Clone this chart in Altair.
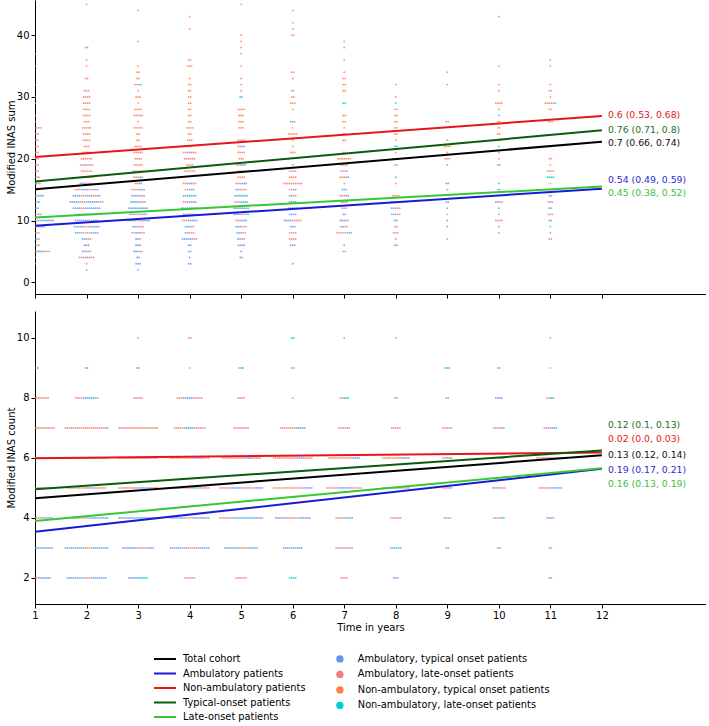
import re
import altair as alt
import pandas as pd

# ---------------- data ----------------
# Colour codes: b = ambulatory typical onset, s = ambulatory late-onset,
# o = non-ambulatory typical onset, c = non-ambulatory late-onset
# "level:codes" per year, run-length coded (left-to-right order of dots)
sum_rows = {
    1: "37:o1 35:s1 32:o1 30:o1 29:s1 27:o1 26:o1 25:o3s2o2 24:o2s2 23:o2s2 22:o2s1o1 21:s2o2 20:o2s2 19:o2s2 18:s2o2 17:o2c1s2 16:o3c1o2 15:b2o2 14:b3o2b4 13:s2b3 12:c1b3 11:b3s2b2 10:b8s4b7 9:b5s2b3 8:b3s2 7:b4s1 6:b3s2 5:b4s4b4s3 4:b1 3:b1",
    2: "45:o1 38:o2 36:o1 35:o1 33:o2 31:o3 30:o2s2 29:o4 28:s2o2 27:o4 26:o3 25:o2s2c1 24:s2o2 23:o4 22:o3 21:s2o2 20:o3s3 19:o2b2s3 18:o4s2 17:o3b2o2 16:b3o2s2 15:o3b4s2b3 14:b4s3b3o2b2 13:b5s3c2b4s3 12:b4o2b3c1b4 11:b3s3b4s2 10:b6s2b4 9:b5s3b5 8:b4s4b4 7:b3s2 6:b3 5:b3s2 4:s3b2s3 3:s1 2:b1",
    3: "44:o1 39:o1 35:o1 34:o2 33:o2 32:o2c2 31:o1 30:o3 29:o1 28:o4 27:o5 26:o1 25:o2s3 24:o2 23:o2 22:o2s2 21:o3s2 20:o2s2 19:s3o2 18:b2s2o2 17:o3b2 16:s2b2 15:o3b4 14:b3s2b2 13:c2b3s3 12:b4c2b4 11:b3s3b3 10:b5s3b4 9:b3s3 8:s2b3s2 7:b2s1 6:b3 5:b3s2 4:b2 3:b3 2:b1",
    4: "43:o1 41:o1 36:o2 35:o3 33:o1 32:o2 31:o2 30:o2 29:o2 28:o2 27:o2 26:o2 25:o2s2 24:o2 23:o3 22:o2 21:o3b2o2 20:s3o3 19:o2s2 18:o3s3 16:s3b2o2 15:o2b3 14:b3c2b2 13:s3b4 12:b4c2b3 11:b3s2b2 10:s3b5 9:b3s2 8:b2s3 7:b5s3 6:b2 5:b2 4:b1 3:b2",
    5: "45:o1 40:o1 39:o1 38:o1 37:o1 35:o1 33:o1 32:o1 31:o1 30:c2 28:o4 27:o3 26:o3 25:o3 23:o2s2 22:s2b2 21:o2s2 20:o3 19:s2b3 18:o4 17:s2o2 16:s3b3 15:b3s3 14:b4c3 13:s3b4 12:b3c2b3 11:b4s2c2 10:s3b3 9:b3s3 8:b3s2 7:b2s2 6:s2b2 5:b1 4:b2",
    6: "44:o1 42:o1 41:o1 40:o2 34:o2 33:o1 31:o2 30:o2 29:o3 28:o1 26:c2o1 25:o1 24:o5 23:o1 22:o1 21:o3 19:b1 18:s2o2 17:o4 16:o5s5 15:s2b2 14:b2s2 13:b4 12:b3c2 11:b4 10:b4s5 9:c1b2 8:s4 7:s4 6:b3 3:b1",
    7: "39:o1 38:o1 36:o1 34:o1 33:o2 32:o2 31:o2 29:c2 27:o2 26:o2 25:o1 24:o2 23:o2 21:o2 20:o4s3 19:o4 18:s2b2 17:o3b2 16:o1 15:b3 14:s3b2 13:b2s2 12:s3 11:b2 10:b3s2 9:b2s2 8:s5b3 6:b1 5:s2",
    8: "32:o1 30:o1 29:c1 28:o2 27:o2 26:o2 25:o2 24:o2 23:o1 22:c2 21:o1 20:o2s2 19:o2 17:c1 16:o1 14:o4 13:b3s3 12:b2s3 11:b3s2 10:b2 9:s2 8:b1s2 7:b1 6:b2",
    9: "34:o1 32:o1 26:o2 23:o1 22:o4 21:o1 20:s3 19:c1 16:b2 15:b1 13:b2 12:b1 11:s1 10:b1 9:b1 7:s1",
    10: "43:o1 35:o1 32:o1 31:o1 29:o4 28:o1 27:c1 26:o2 25:o2 24:o2 23:s2 22:c1 21:o1 20:o1 19:b2 16:c1 15:b2 13:b2s2 12:b1 11:b1 10:s4 9:b1 8:b1",
    11: "36:o1 35:o1 32:o1 31:o2 30:o1 29:o5c1 28:o2 26:o3 22:o1 20:o2 19:o1 18:o4 17:c4 16:o1 15:s3 14:b2 13:s3 12:b2 11:s3 10:b2 9:b1 8:b1 7:s2",
}
count_rows = {
    1: "9:s4 8:s6o4s4 7:s8o6s6 6:o6s6b4o4 5:o5s5b4o4 4:b6c2s4b6 3:b8c2b8 2:b8s2b6",
    2: "9:c2 8:s4b4c2s2 7:s8o6s6b2 6:o6s6b4o4b2 5:s6o4b4o4s2 4:b8s4b6c2b2 3:b10s4b6c2 2:b8s4b8",
    3: "10:s1 9:c2 8:s5 7:s8o6s6 6:o6s6b4o4 5:s6o4b6o4 4:b8c4b8 3:b8s4b4 2:b6c4",
    4: "10:s2 9:s1 8:s4b4s5 7:s6c4s6 6:o6s6b4o4 5:b6s6b4s4 4:b8s4b8 3:b8s6b6 2:s6",
    5: "9:s1c2 8:s4 7:s8 6:o6s6b4o4 5:s6b6s6b4 4:s6b6c2b8 3:b8s4b5 2:s6",
    6: "10:c2 9:s2 8:s1 7:s8b5 6:o6s6b4o4 5:s6o6s4b4 4:b6s6b6 3:b5c2b3 2:c4",
    7: "10:s1 8:s2c3 7:s6 6:o6s6b4 5:s6b6s6 4:s5b4 3:s9 2:s4",
    8: "10:s1 8:s1c1 7:s5 6:s6o4b4 5:s6b4s4 4:s6 3:b3c3 2:b3",
    9: "9:c3 8:s2 7:s5 6:s2b3 5:s3b2 4:s4 3:b2",
    10: "9:s2 8:b4 7:s5c1 6:s4b2 5:b4s3 4:s4c2 3:b2",
    11: "10:s1 9:s1 8:s2c2 7:s3b4 6:s6o4b4 5:s6b6 4:b4 3:s2 2:b2",
}

point_types = ["Ambulatory, typical onset patients", "Ambulatory, late-onset patients",
               "Non-ambulatory, typical onset patients", "Non-ambulatory, late-onset patients"]
type_codes = ["b", "s", "o", "c"]

groups = ["Total cohort", "Ambulatory patients", "Non-ambulatory patients",
          "Typical-onset patients", "Late-onset patients"]
line_x = [1, 12]
sum_start = [15.05, 9.15, 20.3, 16.3, 10.5]
sum_end = [22.75, 15.15, 26.9, 24.6, 15.5]
sum_labels = ["0.7 (0.66, 0.74)", "0.54 (0.49, 0.59)", "0.6 (0.53, 0.68)",
              "0.76 (0.71, 0.8)", "0.45 (0.38, 0.52)"]
sum_label_y = [22.5, 16.55, 27.07, 24.6, 14.5]
count_start = [4.66, 3.54, 5.99, 4.96, 3.9]
count_end = [6.09, 5.64, 6.18, 6.25, 5.66]
count_labels = ["0.13 (0.12, 0.14)", "0.19 (0.17, 0.21)", "0.02 (0.0, 0.03)",
                "0.12 (0.1, 0.13)", "0.16 (0.13, 0.19)"]
count_label_y = [6.1, 5.6, 6.62, 7.09, 5.12]

# ---------------- styles ----------------
point_colors = ["#6495ED", "#F08080", "#FF7F50", "#00CED1"]
line_colors = ["#000000", "#1a1ad6", "#e8141c", "#0b5a0b", "#35c835"]
text_colors = ["#111111", "#2a2ad0", "#e01818", "#2a6e2a", "#40c040"]
GAP = 0.039  # horizontal spacing between stacked dots (in x units)
FONT = "DejaVu Sans"
code_map = dict(zip(type_codes, point_types))


def expand(rows):
    recs = []
    for yr, s in rows.items():
        for tok in s.split():
            lvl, codes = tok.split(":")
            seq = []
            for c, n in re.findall(r"([bsoc])(\d+)", codes):
                seq += [c] * int(n)
            n = len(seq)
            for i, c in enumerate(seq):
                recs.append({"x": yr + (i - (n - 1) / 2) * GAP, "y": float(lvl), "type": code_map[c]})
    return pd.DataFrame(recs)


def lines_df(starts, ends):
    recs = []
    for g, a, b in zip(groups, starts, ends):
        recs.append({"x": line_x[0], "y": a, "group": g})
        recs.append({"x": line_x[1], "y": b, "group": g})
    return pd.DataFrame(recs)


XSCALE = alt.Scale(domain=[1, 14.02], nice=False, zero=False)
LEG_Y = 654
ROW_PAD = 4.5


def panel(pts, starts, ends, labels, label_y, ydom, yticks, ytitle, bottom, h):
    if bottom:
        xaxis = alt.Axis(values=list(range(1, 13)), title="Time in years", labelFlush=False)
    else:
        xaxis = alt.Axis(values=list(range(1, 13)), labels=False, title=None)
    yscale = alt.Scale(domain=ydom, nice=False, zero=False)
    yaxis = alt.Axis(values=yticks, title=ytitle)

    points = alt.Chart(pts).mark_circle(size=3.5, opacity=0.8, clip=True).encode(
        x=alt.X("x:Q", scale=XSCALE, axis=xaxis),
        y=alt.Y("y:Q", scale=yscale, axis=yaxis),
        color=alt.Color("type:N", scale=alt.Scale(domain=point_types, range=point_colors),
                        legend=alt.Legend(orient="none", legendX=300, legendY=LEG_Y, title=None,
                                          symbolType="circle", symbolSize=54, symbolOpacity=1,
                                          labelFontSize=9.8, labelFont=FONT, labelOffset=13,
                                          rowPadding=ROW_PAD, padding=0, labelLimit=400)),
    )
    lines = alt.Chart(lines_df(starts, ends)).mark_line(strokeWidth=2, clip=True).encode(
        x=alt.X("x:Q", scale=XSCALE),
        y=alt.Y("y:Q", scale=yscale),
        stroke=alt.Stroke("group:N", scale=alt.Scale(domain=groups, range=line_colors),
                          legend=alt.Legend(orient="none", legendX=125, legendY=LEG_Y, title=None,
                                            symbolType="M-3,0H3", symbolSize=54, symbolStrokeWidth=2,
                                            labelFontSize=9.8, labelFont=FONT, labelOffset=13,
                                            rowPadding=ROW_PAD, padding=0, labelLimit=400)),
        detail="group:N",
    )
    layers = [points, lines]
    for g, lab, ly, col in zip(groups, labels, label_y, text_colors):
        tdf = pd.DataFrame({"x": [line_x[1]], "y": [ly], "label": [lab]})
        layers.append(
            alt.Chart(tdf).mark_text(align="left", baseline="middle", dx=6, fontSize=9.3,
                                     font=FONT, color=col).encode(
                x=alt.X("x:Q", scale=XSCALE), y=alt.Y("y:Q", scale=yscale), text="label:N")
        )
    return alt.layer(*layers).properties(width=671, height=h)


top = panel(expand(sum_rows), sum_start, sum_end, sum_labels, sum_label_y,
            [-1.9, 45.7], [0, 10, 20, 30, 40], "Modified INAS sum", False, 294)
bottom = panel(expand(count_rows), count_start, count_end, count_labels, count_label_y,
               [1.13, 10.9], [2, 4, 6, 8, 10], "Modified INAS count", True, 293)

chart = alt.vconcat(top, bottom, spacing=12).resolve_scale(
    color="shared", stroke="shared", y="independent"
).properties(
    padding={"left": 6, "top": 0, "right": 0, "bottom": 0}
).configure_view(stroke=None).configure_axis(
    grid=False, domainColor="#000000", tickColor="#000000", tickSize=4,
    labelFontSize=10, titleFontSize=10, labelFont=FONT, titleFont=FONT,
    labelColor="#000000", titleColor="#000000", titleFontWeight="normal",
    labelPadding=2
).configure_axisX(titlePadding=2).configure_axisY(titlePadding=0).configure_legend(
    labelColor="#000000")

chart.save("out.html", embed_options={"renderer": "svg", "actions": False})
